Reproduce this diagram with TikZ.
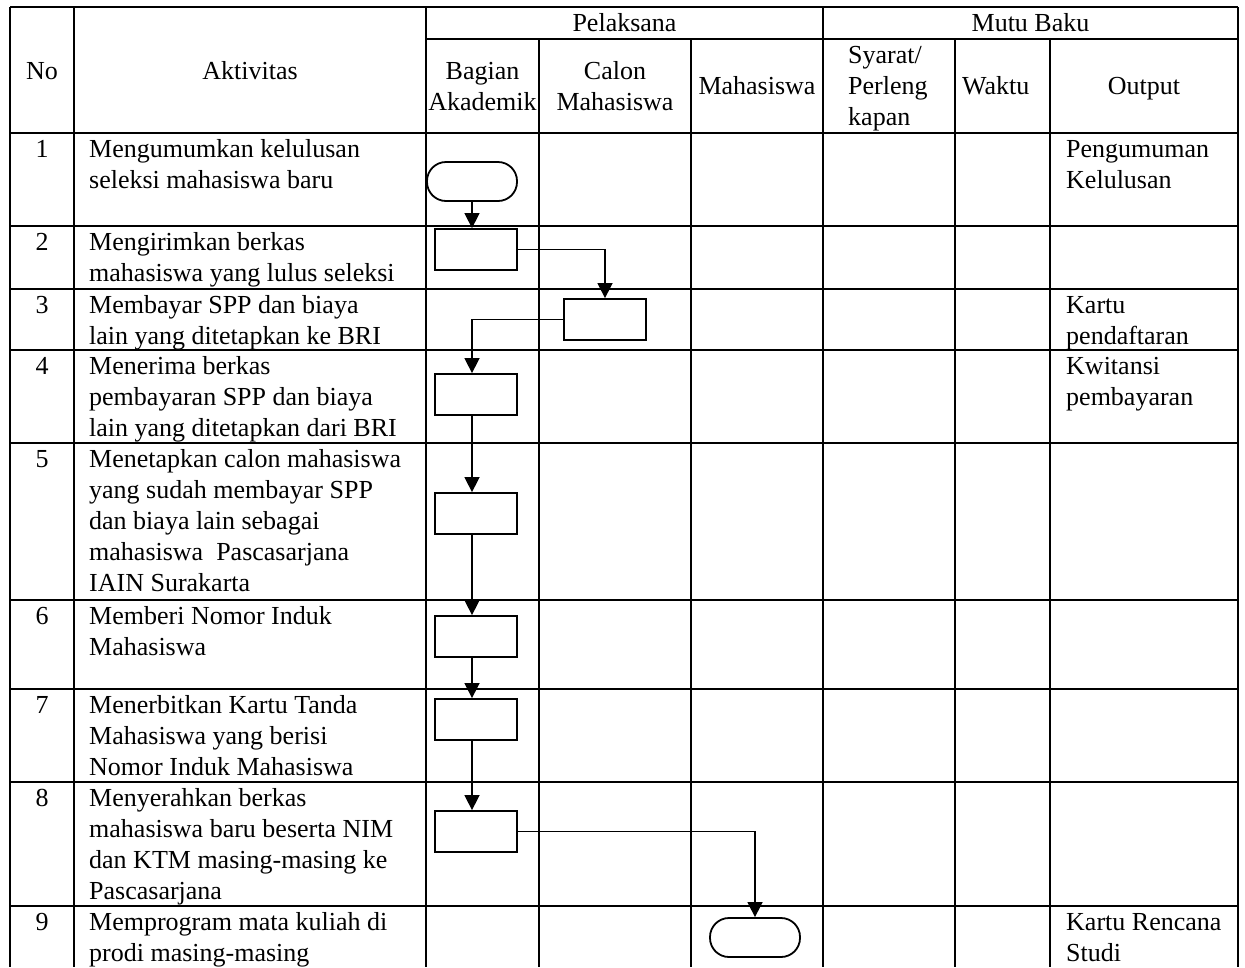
\documentclass[tikz,border=0pt]{standalone}
\usepackage{fontspec}
\setmainfont{Liberation Serif}
\usetikzlibrary{arrows.meta}
\begin{document}
\begin{tikzpicture}[x=1pt,y=-1pt,
  every node/.style={font=\fontsize{26}{31}\selectfont, inner sep=0pt},
  grid/.style={line width=1.1pt, black},
  % multi-line texts are placed by the baseline of their last line
  cell/.style={anchor=base west, align=left},
  ctr/.style={anchor=base, align=center},
  proc/.style={draw, line width=1.8pt, minimum width=82pt, minimum height=41pt},
  term/.style={draw, line width=1.8pt, rounded corners=19pt, minimum width=90pt, minimum height=39pt},
  flow/.style={line width=1.5pt, -{Triangle[width=15pt,length=15pt]}}
]
\useasboundingbox (0,0) rectangle (1245,967);

% table rules
\draw[grid] (10,7) -- (1238,7);
\draw[grid] (426,39) -- (1238,39);
\foreach \y in {133,226,289,350,443,600,689,782,906}
  \draw[grid] (10,\y) -- (1238,\y);
\foreach \x in {10,74,426,823,1238}
  \draw[grid] (\x,7) -- (\x,967);
\foreach \x in {539,691,955,1050}
  \draw[grid] (\x,39) -- (\x,967);

% header
\node[ctr] (hno) at (42,79) {No};
\node[ctr] (hakt) at (250,79) {Aktivitas};
\node[ctr] (hpel) at (624.5,31.5) {Pelaksana};
\node[ctr] (hmutu) at (1030.5,31.5) {Mutu Baku};
\node[ctr] (hbag) at (482.5,110) {Bagian\\Akademik};
\node[ctr] (hcal) at (615,110) {Calon\\Mahasiswa};
\node[ctr] (hmhs) at (757,94) {Mahasiswa};
\node[cell] (hsya) at (848,125) {Syarat/\\Perleng\\kapan};
\node[cell] (hwak) at (962,94) {Waktu};
\node[ctr] (hout) at (1144,94) {Output};

% row numbers
\foreach \n/\y in {1/157,2/250,3/313,4/374,5/467,6/624,7/713,8/806,9/930}
  \node[ctr] (no\n) at (42,\y) {\n};

% activities
\node[cell] (a1) at (89,188) {Mengumumkan kelulusan\\seleksi mahasiswa baru};
\node[cell] (a2) at (89,281) {Mengirimkan berkas\\mahasiswa yang lulus seleksi};
\node[cell] (a3) at (89,344) {Membayar SPP dan biaya\\lain yang ditetapkan ke BRI};
\node[cell] (a4) at (89,436) {Menerima berkas\\pembayaran SPP dan biaya\\lain yang ditetapkan dari BRI};
\node[cell] (a5) at (89,591) {Menetapkan calon mahasiswa\\yang sudah membayar SPP\\dan biaya lain sebagai\\mahasiswa~~Pascasarjana\\IAIN Surakarta};
\node[cell] (a6) at (89,655) {Memberi Nomor Induk\\Mahasiswa};
\node[cell] (a7) at (89,775) {Menerbitkan Kartu Tanda\\Mahasiswa yang berisi\\Nomor Induk Mahasiswa};
\node[cell] (a8) at (89,899) {Menyerahkan berkas\\mahasiswa baru beserta NIM\\dan KTM masing-masing ke\\Pascasarjana};
\node[cell] (a9) at (89,961) {Memprogram mata kuliah di\\prodi masing-masing};

% outputs
\node[cell] (o1) at (1066,188) {Pengumuman\\Kelulusan};
\node[cell] (o3) at (1066,344) {Kartu\\pendaftaran};
\node[cell] (o4) at (1066,405) {Kwitansi\\pembayaran};
\node[cell] (o9) at (1066,961) {Kartu Rencana\\Studi};

% flowchart symbols
\node[term] (t1) at (472,181.5) {};
\node[proc] (b2) at (476,249.5) {};
\node[proc] (b3) at (605,319.5) {};
\node[proc] (b4) at (476,394.5) {};
\node[proc] (b5) at (476,513.5) {};
\node[proc] (b6) at (476,636.5) {};
\node[proc] (b7) at (476,719.5) {};
\node[proc] (b8) at (476,831.5) {};
\node[term] (t9) at (755,937.5) {};
\coordinate (lane) at (472,0);

% connectors
\draw[flow] (t1.south) -- (b2.north -| lane);
\draw[flow] (b2.east) -| (b3.north);
\draw[flow] (b3.west) -| (b4.north -| lane);
\draw[flow] (b4.south -| lane) -- (b5.north -| lane);
\draw[flow] (b5.south -| lane) -- (b6.north -| lane);
\draw[flow] (b6.south -| lane) -- (b7.north -| lane);
\draw[flow] (b7.south -| lane) -- (b8.north -| lane);
\draw[flow] (b8.east) -| (t9.north);
\end{tikzpicture}
\end{document}
